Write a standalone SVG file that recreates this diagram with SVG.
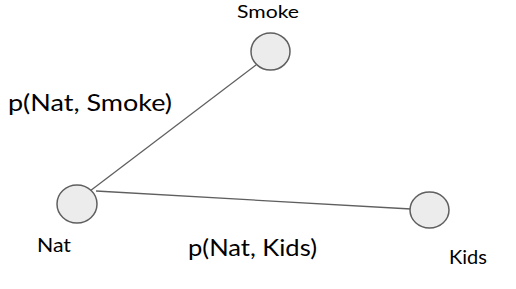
<svg xmlns="http://www.w3.org/2000/svg" width="516" height="289" viewBox="0 0 516 289">
  <style>
    .node { fill: #ececec; stroke: #5f5f5f; stroke-width: 1.5; }
    .edge { stroke: #5f5f5f; stroke-width: 1.3; fill: none; }
    .lbl { font-family: Lato, "Open Sans", sans-serif; fill: #000; }
    .small { font-size: 19px; }
    .big { font-size: 24px; }
  </style>
  <rect width="516" height="289" fill="#fff"/>
  <g id="connectors">
    <line class="edge" x1="90" y1="191" x2="256" y2="65"/>
    <line class="edge" x1="96" y1="191" x2="411" y2="209"/>
  </g>
  <g id="smoke">
    <ellipse class="node" cx="270.5" cy="51.5" rx="19.5" ry="18.5"/>
    <text class="lbl" x="237" y="18" font-size="18" textLength="62" lengthAdjust="spacingAndGlyphs">Smoke</text>
  </g>
  <g id="nat">
    <ellipse class="node" cx="77" cy="204" rx="20" ry="19"/>
    <text class="lbl small" x="37" y="252" textLength="34" lengthAdjust="spacingAndGlyphs">Nat</text>
  </g>
  <g id="kids">
    <ellipse class="node" cx="429.5" cy="210" rx="19.5" ry="18"/>
    <text class="lbl small" x="449" y="264" textLength="38" lengthAdjust="spacingAndGlyphs">Kids</text>
  </g>
  <text class="lbl big" x="8" y="111" textLength="164" lengthAdjust="spacingAndGlyphs">p(Nat, Smoke)</text>
  <text class="lbl big" x="188" y="256" textLength="129" lengthAdjust="spacingAndGlyphs">p(Nat, Kids)</text>
</svg>
